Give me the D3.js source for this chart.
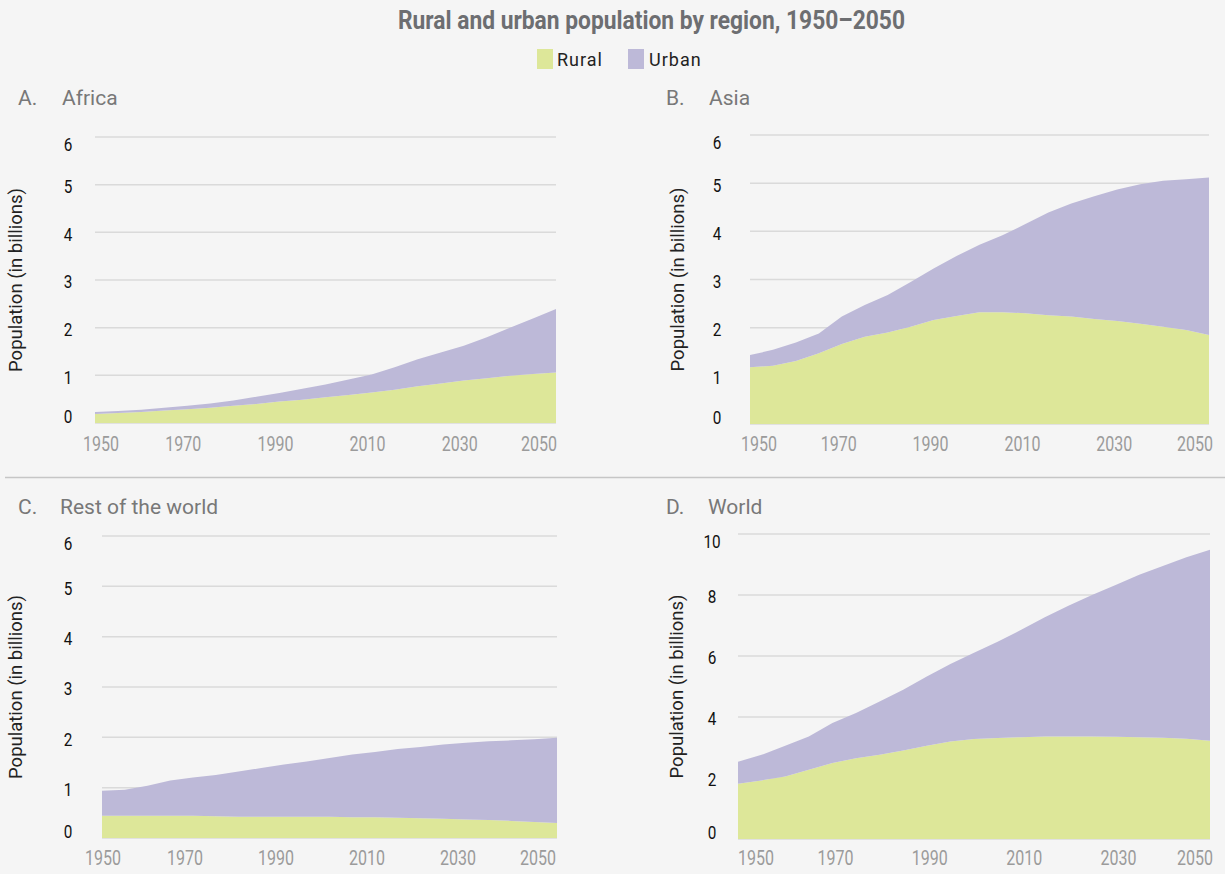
<!DOCTYPE html>
<html>
<head>
<meta charset="utf-8">
<script src="https://cdn.jsdelivr.net/npm/d3@7"></script>
<style>
  html, body { margin: 0; padding: 0; background: #f5f5f5; }
  svg { display: block; }
</style>
</head>
<body>
<svg id="chart" width="1225" height="874"></svg>
<script>
// ---------------- DATA ----------------
const years = [1950,1955,1960,1965,1970,1975,1980,1985,1990,1995,2000,2005,2010,2015,2020,2025,2030,2035,2040,2045,2050];
const xTickYears = [1950,1970,1990,2010,2030,2050];
const seriesNames = ["Rural", "Urban"];

// values in billions
const africaRural = [0.19,0.21,0.23,0.26,0.29,0.32,0.36,0.40,0.45,0.49,0.54,0.59,0.64,0.70,0.77,0.83,0.89,0.94,0.99,1.03,1.06];
const africaUrban = [0.04,0.04,0.05,0.06,0.07,0.09,0.11,0.15,0.18,0.23,0.27,0.32,0.38,0.47,0.57,0.65,0.73,0.86,1.01,1.16,1.33];

const asiaRural = [1.18,1.21,1.31,1.47,1.66,1.81,1.90,2.02,2.16,2.24,2.32,2.32,2.30,2.26,2.23,2.18,2.14,2.08,2.02,1.95,1.85];
const asiaUrban = [0.25,0.33,0.38,0.41,0.57,0.66,0.78,0.93,1.07,1.25,1.40,1.60,1.85,2.13,2.35,2.55,2.73,2.90,3.03,3.13,3.27];

const restRural = [0.44,0.44,0.44,0.44,0.44,0.43,0.42,0.42,0.42,0.42,0.42,0.41,0.41,0.40,0.39,0.38,0.37,0.36,0.34,0.32,0.30];
const restUrban = [0.50,0.52,0.60,0.70,0.76,0.82,0.90,0.97,1.04,1.10,1.17,1.25,1.30,1.37,1.42,1.48,1.52,1.56,1.60,1.64,1.69];

const worldRural = [1.81,1.92,2.05,2.27,2.49,2.65,2.76,2.90,3.06,3.20,3.28,3.31,3.34,3.36,3.36,3.36,3.35,3.34,3.32,3.29,3.22];
const worldUrban = [0.72,0.84,1.01,1.09,1.31,1.48,1.75,1.99,2.27,2.54,2.83,3.16,3.52,3.91,4.29,4.64,4.98,5.32,5.63,5.95,6.26];

const sixTicks = [0,1,2,3,4,5,6];
const tenTicks = [0,2,4,6,8,10];

const chartTitle = "Rural and urban population by region, 1950\u20132050";
const yAxisLabel = "Population (in billions)";

const panelsData = [
  { letter: "A.", name: "Africa",            rural: africaRural, urban: africaUrban, yMax: 6,  yTicks: sixTicks },
  { letter: "B.", name: "Asia",              rural: asiaRural,   urban: asiaUrban,   yMax: 6,  yTicks: sixTicks },
  { letter: "C.", name: "Rest of the world", rural: restRural,   urban: restUrban,   yMax: 6,  yTicks: sixTicks },
  { letter: "D.", name: "World",             rural: worldRural,  urban: worldUrban,  yMax: 10, yTicks: tenTicks }
];

// ---------------- LAYOUT / STYLE ----------------
const layout = [
  { x0: 95,  x1: 556,  yTop: 137, yBot: 423, tickX: 68,  labelX: 16,  letterX: 18,  nameX: 62,  titleY: 105, xTickY: 451, firstOff: 6,  midOff: -4, lastOff: -17 },
  { x0: 750, x1: 1209, yTop: 135, yBot: 424, tickX: 717, labelX: 678, letterX: 666, nameX: 709, titleY: 105, xTickY: 451, firstOff: 9,  midOff: -3, lastOff: -14 },
  { x0: 102, x1: 557,  yTop: 536, yBot: 838, tickX: 68,  labelX: 16,  letterX: 18,  nameX: 60,  titleY: 514, xTickY: 865, firstOff: 1,  midOff: -8, lastOff: -19 },
  { x0: 738, x1: 1210, yTop: 534, yBot: 839, tickX: 712, labelX: 677, letterX: 666, nameX: 708, titleY: 514, xTickY: 865, firstOff: 18, midOff: 3,  lastOff: -15 }
];
const colors = { Rural: "#dde799", Urban: "#bdb9d8" };
const regular = "'Roboto', 'Liberation Sans', sans-serif";

const svg = d3.select("#chart");
svg.append("rect").attr("width", 1225).attr("height", 874).attr("fill", "#f5f5f5");

// Title (condensed look via textLength)
svg.append("text")
  .attr("x", 398).attr("y", 29)
  .attr("textLength", 507).attr("lengthAdjust", "spacingAndGlyphs")
  .style("font-family", regular)
  .style("font-weight", "bold")
  .style("font-size", "25px")
  .attr("fill", "#6d6e71")
  .text(chartTitle);

// Legend
const legendItems = [ { name: "Rural", x: 537, tx: 557 }, { name: "Urban", x: 628, tx: 649 } ];
const lg = svg.append("g");
lg.selectAll("rect").data(legendItems).join("rect")
  .attr("x", d => d.x).attr("y", 49).attr("width", 16).attr("height", 20)
  .attr("fill", d => colors[d.name]);
lg.selectAll("text").data(legendItems).join("text")
  .attr("x", d => d.tx).attr("y", 66)
  .style("font-family", regular).style("font-size", "18px").style("letter-spacing", "1px")
  .attr("fill", "#222")
  .text(d => d.name);

// Divider
svg.append("line").attr("x1", 5).attr("x2", 1225).attr("y1", 477.5).attr("y2", 477.5)
  .attr("stroke", "#c6c6c6").attr("stroke-width", 1.5);

// Panels
panelsData.forEach((p, i) => {
  const L = layout[i];
  const g = svg.append("g");
  const x = d3.scaleLinear().domain([years[0], years[years.length - 1]]).range([L.x0, L.x1]);
  const y = d3.scaleLinear().domain([0, p.yMax]).range([L.yBot, L.yTop]);

  // gridlines
  g.append("g").selectAll("line").data(p.yTicks).join("line")
    .attr("x1", L.x0).attr("x2", L.x1)
    .attr("y1", d => y(d)).attr("y2", d => y(d))
    .attr("stroke", "#dadada").attr("stroke-width", 1.5);

  // stacked areas
  const rows = years.map((yr, k) => ({ year: yr, Rural: p.rural[k], Urban: p.urban[k] }));
  const stack = d3.stack().keys(seriesNames)(rows);
  const area = d3.area()
    .x(d => x(d.data.year))
    .y0(d => y(d[0]))
    .y1(d => y(d[1]));
  g.append("g").selectAll("path").data(stack).join("path")
    .attr("d", area)
    .attr("fill", d => colors[d.key]);

  // y tick labels (ends pulled inward like the original)
  const n = p.yTicks.length;
  g.append("g").selectAll("text").data(p.yTicks).join("text")
    .attr("x", L.tickX)
    .attr("y", (d, k) => y(d) + (k === 0 ? -6 : (k === n - 1 ? 8 : 2)))
    .attr("dy", "0.36em")
    .attr("text-anchor", "middle")
    .attr("textLength", d => String(d).length * 8.6)
    .attr("lengthAdjust", "spacingAndGlyphs")
    .style("font-family", regular).style("font-size", "18px")
    .attr("fill", "#111")
    .text(d => d);

  // x tick labels
  const m = xTickYears.length;
  g.append("g").selectAll("text").data(xTickYears).join("text")
    .attr("x", (d, k) => x(d) + (k === 0 ? L.firstOff : (k === m - 1 ? L.lastOff : L.midOff)))
    .attr("y", L.xTickY)
    .attr("text-anchor", "middle")
    .attr("textLength", 36)
    .attr("lengthAdjust", "spacingAndGlyphs")
    .style("font-family", regular).style("font-size", "21px")
    .attr("fill", "#9b9b9b")
    .text(d => d);

  // y axis label
  const cy = (L.yTop + L.yBot) / 2;
  g.append("text")
    .attr("transform", `translate(${L.labelX + 6},${cy}) rotate(-90)`)
    .attr("text-anchor", "middle")
    .style("font-family", regular).style("font-size", "18.5px")
    .attr("fill", "#222")
    .text(yAxisLabel);

  // panel title
  g.append("text").attr("x", L.letterX).attr("y", L.titleY)
    .style("font-family", regular).style("font-size", "21px").attr("fill", "#787878")
    .text(p.letter);
  g.append("text").attr("x", L.nameX).attr("y", L.titleY)
    .style("font-family", regular).style("font-size", "21px").attr("fill", "#787878")
    .text(p.name);
});
</script>
</body>
</html>
